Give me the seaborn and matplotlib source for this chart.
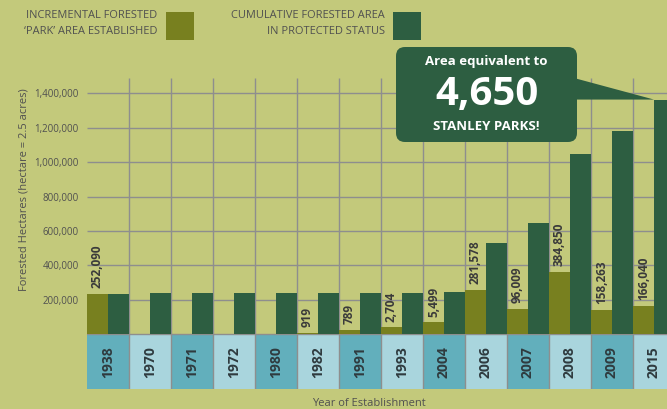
import numpy as np
import pandas as pd
import matplotlib
matplotlib.use("Agg")
import matplotlib.pyplot as plt
import seaborn as sns
from matplotlib.patches import FancyBboxPatch, Polygon, Rectangle
from matplotlib.transforms import IdentityTransform

# data
years = ["1938", "1970", "1971", "1972", "1980", "1982", "1991",
         "1993", "2004", "2006", "2007", "2008", "2009", "2015"]

# values printed on the olive bars
incremental_labels = [252090, 0, 0, 0, 0, 919, 789,
                      2704, 5499, 281578, 96009, 384850, 158263, 166040]

# olive bar heights as drawn in the graphic
incremental = [235000, 0, 0, 0, 0, 9000, 26000,
               43000, 72000, 258000, 148000, 362000, 142000, 165000]

# cumulative forested area (dark bars)
cumulative = [235000, 240000, 240000, 240000, 240000, 240000, 240000,
              240000, 246000, 530000, 646000, 1046000, 1180000, 1362000]

yticks = [200000, 400000, 600000, 800000, 1000000, 1200000, 1400000]

inc_name = "Incremental"
cum_name = "Cumulative"

# colours
bg = "#C3C97B"
olive = "#78801F"
dark = "#2D5E41"
teal_dark = "#62AFBC"
teal_light = "#A9D5DD"
grid_c = "#8E8E8E"
txt_c = "#505050"
lab_c = "#3A3A3A"

sns.set_theme(style="white")
plt.rcParams["font.family"] = ["Open Sans", "DejaVu Sans"]

W, H = 667, 409
fig = plt.figure(figsize=(W / 100, H / 100), dpi=100, facecolor=bg)
ax = fig.add_axes([87 / W, 20 / H, 588 / W, 311 / H])
ax.set_facecolor(bg)

cell_h = 316000
ymax = 1487000
n = len(years)

df = pd.DataFrame({
    "year": years * 2,
    "series": [inc_name] * n + [cum_name] * n,
    "value": incremental + cumulative,
})

sns.barplot(data=df, x="year", y="value", hue="series", order=years,
            hue_order=[inc_name, cum_name], palette=[olive, dark],
            saturation=1, width=1, linewidth=0, legend=False, ax=ax)
for p in ax.patches:
    p.set_zorder(3)

# year strip under the bars
cell_cols = [teal_dark if i % 2 == 0 else teal_light for i in range(n)]
ax.bar(np.arange(n), cell_h, bottom=-cell_h, width=1, color=cell_cols,
       linewidth=0, zorder=1)
for i, yr in enumerate(years):
    ax.text(i, -cell_h / 2, yr, rotation=90, ha="center", va="center",
            fontsize=10, fontweight="bold", color="#2F3B3F", zorder=4)

# grid
ax.hlines(yticks, -0.5, n - 0.5, color=grid_c, lw=1, zorder=0.5)
ax.axhline(0, color=grid_c, lw=1, zorder=2)
ax.vlines(np.arange(n - 1) + 0.5, -cell_h, ymax, color=grid_c, lw=1, zorder=2)

ax.set_xlim(-0.5, n - 0.5)
ax.set_ylim(-cell_h, ymax)
ax.set_xticks([])
ax.set_yticks(yticks)
ax.set_yticklabels([f"{v:,}" for v in yticks])
ax.tick_params(axis="y", length=0, pad=6, labelsize=7, labelcolor=txt_c)
for s in ax.spines.values():
    s.set_visible(False)

ax.set_ylabel("Forested Hectares (hectare = 2.5 acres)", fontsize=8, color=txt_c)
ax.yaxis.set_label_coords(-0.097, 0.641)
ax.set_xlabel("")
fig.text(369 / W, 1 - 403 / H, "Year of Establishment", ha="center",
         va="center", fontsize=8, color=txt_c)

# value labels above the olive bars
for i, (h, lab) in enumerate(zip(incremental, incremental_labels)):
    if lab:
        ax.annotate(f"{lab:,}", (i - 0.25, h), xytext=(0, 4),
                    textcoords="offset points", rotation=90,
                    ha="center", va="bottom", fontsize=8.5,
                    fontweight="bold", color=lab_c, zorder=4)

# legend (top)
idt = IdentityTransform()
for right, sq_x, col, l1, l2 in [
    (157, 166, olive, "INCREMENTAL FORESTED", "\u2018PARK\u2019 AREA ESTABLISHED"),
    (385, 393, dark, "CUMULATIVE FORESTED AREA", "IN PROTECTED STATUS"),
]:
    fig.text(right, H - 16, l1, transform=idt, ha="right", va="center",
             fontsize=7.9, color=txt_c)
    fig.text(right, H - 32, l2, transform=idt, ha="right", va="center",
             fontsize=7.9, color=txt_c)
    fig.patches.append(Rectangle((sq_x, H - 40), 28, 28, transform=idt,
                                 facecolor=col, edgecolor="none"))

# callout box pointing at the last cumulative bar
fig.canvas.draw()
tip_x, tip_y = ax.transData.transform((n - 1, cumulative[-1]))
box_l, box_r, box_t, box_b = 396, 577, 47, 142
fig.patches.append(Polygon([(box_r - 3, H - 78), (tip_x, tip_y), (box_r - 3, tip_y)],
                           closed=True, transform=idt, facecolor=dark,
                           edgecolor="none", zorder=5))
fig.patches.append(FancyBboxPatch((box_l, H - box_b), box_r - box_l, box_b - box_t,
                                  boxstyle="round,pad=0,rounding_size=9",
                                  transform=idt, facecolor=dark,
                                  edgecolor="none", zorder=5))
cx = (box_l + box_r) / 2
fig.text(cx, H - 62, "Area equivalent to", transform=idt, ha="center",
         va="center", fontsize=9.5, fontweight="bold", color="white", zorder=6)
fig.text(cx, H - 94, "4,650", transform=idt, ha="center", va="center",
         fontsize=29, fontweight="bold", color="white", zorder=6)
fig.text(cx, H - 126, "STANLEY PARKS!", transform=idt, ha="center",
         va="center", fontsize=9.5, fontweight="bold", color="white", zorder=6)

fig.savefig("out.png", dpi=100, facecolor=bg)
